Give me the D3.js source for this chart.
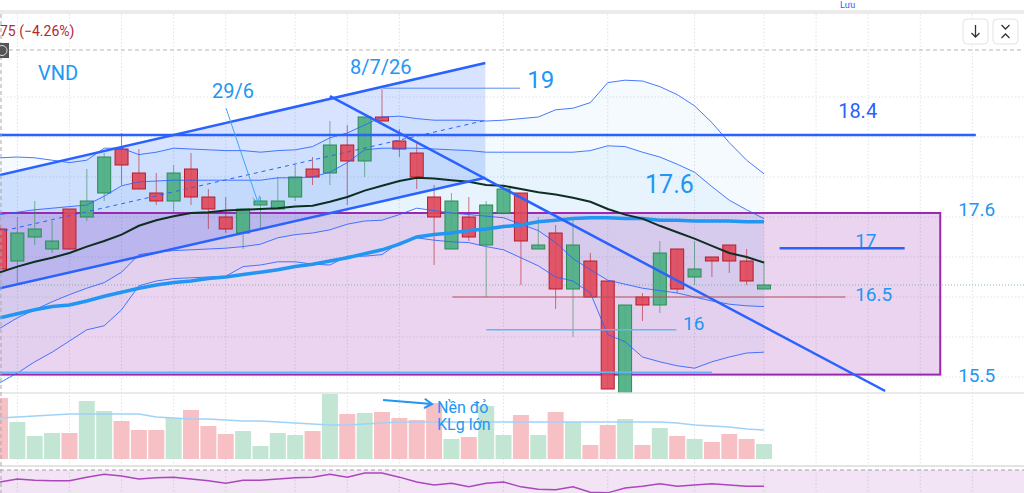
<!DOCTYPE html>
<html lang="vi">
<head>
<meta charset="UTF-8" />
<title>VND</title>
<style>
  body { margin: 0; background: #fff; overflow: hidden; }
  svg { display: block; font-family: Roboto, 'Noto Sans', sans-serif; }
</style>
</head>
<body>
<svg id="chart" width="1024" height="493"></svg>
<script src="https://d3js.org/d3.v7.min.js"></script>
<script>
// daily candles (price in thousand VND)
const opens  = [17.35,16.95,17.25,17.10,17.60,17.50,17.80,18.35,18.05,17.80,17.70,18.10,17.75,17.50,17.30,17.65,17.60,17.75,18.10,18.05,18.40,18.20,18.75,18.45,18.30,17.75,17.10,17.50,17.15,17.55,17.80,17.10,17.30,16.60,16.95,16.70,15.30,16.50,16.40,17.10,16.75,17.00,17.15,16.95,16.60];
const highs  = [17.40,17.50,17.70,17.45,17.60,18.10,18.30,18.55,18.35,18.05,18.15,18.30,17.85,17.75,17.60,17.75,18.00,18.15,18.25,18.70,18.65,18.75,19.10,18.60,18.45,17.90,17.80,17.75,17.70,17.85,17.80,17.50,17.40,17.50,17.05,16.70,16.40,16.55,17.20,17.10,17.20,17.00,17.15,17.10,16.95];
const lows   = [16.80,16.65,17.15,17.05,17.10,17.45,17.70,17.90,17.85,17.65,17.55,17.65,17.35,17.30,17.10,17.35,17.60,17.70,17.90,17.90,17.65,18.00,18.70,18.25,17.85,16.90,17.10,17.20,16.50,17.55,16.65,17.10,16.35,16.00,16.50,15.35,15.30,16.20,16.30,16.55,16.65,16.75,16.80,16.65,16.60];
const closes = [16.85,17.30,17.35,17.20,17.10,17.70,18.25,18.15,17.85,17.70,18.05,17.75,17.60,17.35,17.60,17.70,17.70,18.00,18.00,18.40,18.20,18.75,18.70,18.35,18.00,17.50,17.70,17.25,17.65,17.85,17.20,17.15,16.60,17.15,16.50,15.35,16.40,16.40,17.05,16.60,16.85,16.95,16.95,16.70,16.65];
const volumes = [61,37,23,26,26,58,48,38,29,29,41,49,33,25,28,13,26,24,28,65,45,46,47,41,39,56,20,22,53,24,44,24,47,37,14,34,40,14,31,23,20,17,25,20,15];
const volMa   = [41,42,43,44,45,45,45,45,45,42,41,40,40,39,38,38,37,36,35,34,34,35,36,37,37,37,37,37,37,37,37,37,37,37,37,37,37,37,37,36,34,33,32,30,29];

// indicators
const maDark = [16.81,16.88,16.94,16.99,17.05,17.13,17.20,17.28,17.39,17.46,17.51,17.55,17.56,17.58,17.59,17.60,17.61,17.63,17.64,17.69,17.75,17.83,17.89,17.95,17.99,17.98,17.96,17.94,17.90,17.89,17.85,17.81,17.78,17.74,17.69,17.60,17.53,17.48,17.39,17.31,17.23,17.14,17.05,17.00,16.93];
const maBlue = [16.24,16.29,16.34,16.38,16.40,16.45,16.51,16.56,16.61,16.65,16.68,16.70,16.73,16.75,16.78,16.81,16.84,16.88,16.91,16.95,16.99,17.04,17.09,17.16,17.25,17.28,17.30,17.33,17.35,17.38,17.40,17.44,17.46,17.48,17.49,17.49,17.48,17.48,17.46,17.46,17.45,17.45,17.45,17.44,17.44];
const bandUp2 = [18.24,18.25,18.24,18.21,18.18,18.21,18.36,18.36,18.28,18.31,18.36,18.35,18.34,18.33,18.33,18.31,18.33,18.34,18.38,18.49,18.55,18.65,18.75,18.76,18.73,18.71,18.71,18.71,18.70,18.71,18.73,18.75,18.84,18.86,18.93,19.18,19.21,19.20,19.13,19.03,18.89,18.68,18.43,18.21,18.04];
const bandUp1 = [17.53,17.56,17.59,17.61,17.63,17.65,17.76,17.89,17.94,17.95,17.96,17.96,17.96,17.96,17.96,17.96,17.99,17.99,18.00,18.06,18.18,18.34,18.36,18.36,18.36,18.35,18.34,18.33,18.31,18.31,18.31,18.31,18.31,18.31,18.33,18.39,18.38,18.31,18.25,18.16,18.06,17.88,17.71,17.59,17.48];
const bandLo1 = [16.11,16.24,16.34,16.44,16.53,16.61,16.68,16.81,17.03,17.06,17.08,17.09,17.10,17.11,17.13,17.16,17.24,17.28,17.30,17.34,17.41,17.45,17.46,17.53,17.61,17.58,17.55,17.53,17.51,17.49,17.41,17.33,17.18,16.98,16.84,16.71,16.66,16.61,16.58,16.55,16.50,16.45,16.41,16.39,16.38];
const bandLo2 = [15.43,15.55,15.69,15.81,15.95,16.09,16.14,16.34,16.64,16.70,16.73,16.74,16.75,16.76,16.88,16.90,16.94,16.94,16.91,16.90,17.01,17.01,17.03,17.18,17.24,17.21,17.19,17.18,17.13,17.09,16.99,16.89,16.75,16.70,16.55,16.03,15.94,15.75,15.69,15.64,15.61,15.69,15.75,15.80,15.81];
const rsi = [50,55,53,52,52,58,63,60,55,57,58,55,52,48,53,53,55,57,58,63,58,65,65,58,50,45,48,42,48,50,42,38,37,42,33,32,40,43,47,43,45,47,45,43,43];

const priceTicks = [15.5, 16, 16.5, 17, 17.5, 18, 18.5, 19];
const timeGrid = [1, 4, 7, 10, 13, 17, 20, 23, 29, 35, 40, 44, 47, 50, 53, 56];
const lastPrice = 16.65;

// drawings made on the chart (bar index, price)
const regChannel = { i0: -2, up0: 17.925, lo0: 16.51, i1: 27.95, up1: 19.425, lo1: 17.99 };
const zoneBox = { i0: -2, i1: 54.15, top: 17.55, bottom: 15.53 };
const downTrend = [[19.0, 19.01], [50.98, 15.325]];
const levels = [
  { i0: -2, i1: 56.2, p: 18.525, color: "#2962ff", w: 2.5 },
  { i0: 22.05, i1: 29.95, p: 19.11, color: "#5b8def", w: 1 },
  { i0: 44.9, i1: 52.1, p: 17.11, color: "#2962ff", w: 2.5 },
  { i0: 26.05, i1: 48.7, p: 16.5, color: "#b8505a", w: 1 },
  { i0: 28.0, i1: 38.95, p: 16.09, color: "#64b5f6", w: 1.5 },
  { i0: -2, i1: 41.0, p: 15.56, color: "#64b5f6", w: 1.5 }
];
const labels = [
  { t: "VND", i: 2.19, p: 19.21, s: 20, c: "#2196f3" },
  { t: "29/6", i: 12.21, p: 18.99, s: 20, c: "#2196f3" },
  { t: "8/7/26", i: 20.16, p: 19.29, s: 20, c: "#2196f3" },
  { t: "19", i: 30.36, p: 19.11, s: 24, c: "#2196f3" },
  { t: "18.4", i: 48.27, p: 18.74, s: 20, c: "#2962ff" },
  { t: "17.6", i: 37.15, p: 17.80, s: 25, c: "#2196f3" },
  { t: "17.6", i: 55.18, p: 17.51, s: 19, c: "#2196f3" },
  { t: "17", i: 49.25, p: 17.125, s: 19, c: "#2196f3" },
  { t: "16.5", i: 49.25, p: 16.45, s: 19, c: "#2196f3" },
  { t: "16", i: 39.34, p: 16.09, s: 19, c: "#2196f3" },
  { t: "15.5", i: 55.18, p: 15.44, s: 19, c: "#2196f3" }
];
const volNotes = [
  { t: "Nền đỏ", i: 25.17, v: 46 },
  { t: "KLg lớn", i: 25.17, v: 29 }
];

const svg = d3.select("#chart");
const W = 1024, H = 493;
const x = d3.scaleLinear().domain([0, 44]).range([0, 764]);
const y = d3.scaleLinear().domain([15.5, 19]).range([377, 97]);
const yVol = d3.scaleLinear().domain([0, 65]).range([459, 394]);
const yRsi = d3.scaleLinear().domain([30, 70]).range([494, 470]);
const idx = d3.range(opens.length);
const green = "#4caf82", greenDark = "#2f8a57", red = "#e04a5b", redDark = "#b71c2c";

svg.append("rect").attr("width", W).attr("height", H).attr("fill", "#fff");
svg.append("defs").append("clipPath").attr("id", "main")
  .append("rect").attr("x", 0).attr("y", 14).attr("width", W).attr("height", 379);

// grid
const grid = svg.append("g").attr("stroke", "#dfe2ea").attr("stroke-dasharray", "1.5,2");
grid.selectAll(".v").data(timeGrid).join("line")
  .attr("x1", d => x(d)).attr("x2", d => x(d)).attr("y1", 14).attr("y2", H);
grid.selectAll(".h").data(priceTicks).join("line")
  .attr("x1", 0).attr("x2", W).attr("y1", d => y(d)).attr("y2", d => y(d));

const main = svg.append("g").attr("clip-path", "url(#main)");

// bollinger fills
const area = (a, b) => d3.area().x(i => x(i)).y0(i => y(a[i])).y1(i => y(b[i]))(idx);
main.append("path").attr("d", area(bandLo2, bandUp2)).attr("fill", "rgba(33,150,243,0.05)");
main.append("path").attr("d", area(bandLo1, bandUp1)).attr("fill", "rgba(33,150,243,0.06)");

// regression channel fill
const rc = regChannel;
main.append("path")
  .attr("d", d3.line()([[x(rc.i0), y(rc.up0)], [x(rc.i1), y(rc.up1)], [x(rc.i1), y(rc.lo1)], [x(rc.i0), y(rc.lo0)]]) + "Z")
  .attr("fill", "rgba(41,98,255,0.18)");

// zone box
main.append("rect")
  .attr("x", x(zoneBox.i0)).attr("y", y(zoneBox.top))
  .attr("width", x(zoneBox.i1) - x(zoneBox.i0)).attr("height", y(zoneBox.bottom) - y(zoneBox.top))
  .attr("fill", "rgba(156,39,176,0.2)").attr("stroke", "#9c27b0").attr("stroke-width", 2);

// last price line
main.append("line").attr("x1", 0).attr("x2", W).attr("y1", y(lastPrice)).attr("y2", y(lastPrice))
  .attr("stroke", "#5f9e8c").attr("stroke-width", 1).attr("stroke-dasharray", "1,2").attr("opacity", 0.7);

// candles
const cg = main.append("g").selectAll("g").data(idx).join("g");
cg.append("line")
  .attr("x1", i => x(i)).attr("x2", i => x(i))
  .attr("y1", i => y(highs[i])).attr("y2", i => y(lows[i]))
  .attr("stroke", i => closes[i] >= opens[i] ? greenDark : redDark).attr("stroke-opacity", 0.6);
cg.append("rect")
  .attr("x", i => x(i) - 6.5).attr("width", 13)
  .attr("y", i => y(Math.max(opens[i], closes[i])))
  .attr("height", i => Math.max(1.5, Math.abs(y(opens[i]) - y(closes[i]))))
  .attr("fill", i => closes[i] >= opens[i] ? green : red)
  .attr("stroke", i => closes[i] >= opens[i] ? greenDark : redDark)
  .attr("stroke-width", 1).attr("fill-opacity", 0.92);

// indicator lines
const ln = arr => d3.line().x(i => x(i)).y(i => y(arr[i]))(idx);
[bandUp2, bandUp1, bandLo1, bandLo2].forEach(b =>
  main.append("path").attr("d", ln(b)).attr("fill", "none").attr("stroke", "#2962ff").attr("stroke-width", 1).attr("opacity", 0.85));
main.append("path").attr("d", ln(maBlue)).attr("fill", "none").attr("stroke", "#2196f3").attr("stroke-width", 3.5);
main.append("path").attr("d", ln(maDark)).attr("fill", "none").attr("stroke", "#0f2e22").attr("stroke-width", 2);

// regression lines
const seg = (i0, p0, i1, p1) => d3.line()([[x(i0), y(p0)], [x(i1), y(p1)]]);
main.append("path").attr("d", seg(rc.i0, rc.up0, rc.i1, rc.up1)).attr("stroke", "#2962ff").attr("stroke-width", 2.5);
main.append("path").attr("d", seg(rc.i0, rc.lo0, rc.i1, rc.lo1)).attr("stroke", "#2962ff").attr("stroke-width", 2.5);
main.append("path").attr("d", seg(rc.i0, (rc.up0 + rc.lo0) / 2, rc.i1, (rc.up1 + rc.lo1) / 2))
  .attr("stroke", "#2962ff").attr("stroke-width", 1).attr("stroke-dasharray", "4,4");

// trend line + levels
main.append("path").attr("d", seg(downTrend[0][0], downTrend[0][1], downTrend[1][0], downTrend[1][1]))
  .attr("stroke", "#2962ff").attr("stroke-width", 2.5);
main.selectAll(".lvl").data(levels).join("path")
  .attr("d", d => seg(d.i0, d.p, d.i1, d.p)).attr("stroke", d => d.color).attr("stroke-width", d => d.w);

// labels
svg.selectAll(".lbl").data(labels).join("text")
  .attr("x", d => x(d.i)).attr("y", d => y(d.p))
  .attr("fill", d => d.c).attr("font-size", d => d.s).text(d => d.t);

function arrowHead(g, x1, y1, x2, y2, len, color, w) {
  const a = Math.atan2(y2 - y1, x2 - x1);
  const pts = [[x2 - len * Math.cos(a - 0.55), y2 - len * Math.sin(a - 0.55)], [x2, y2],
               [x2 - len * Math.cos(a + 0.55), y2 - len * Math.sin(a + 0.55)]];
  g.append("path").attr("d", d3.line()(pts)).attr("fill", "none").attr("stroke", color).attr("stroke-width", w);
}
// arrow from 29/6 down to its candle
const a1 = [x(13.02), y(18.86), x(14.86), y(17.68)];
svg.append("path").attr("d", d3.line()([[a1[0], a1[1]], [a1[2], a1[3]]])).attr("stroke", "#42a5f5").attr("stroke-width", 1);
arrowHead(svg, ...a1, 7, "#42a5f5", 1);

// volume pane
svg.append("line").attr("x1", 0).attr("x2", W).attr("y1", 393).attr("y2", 393).attr("stroke", "#e3e3e3").attr("stroke-width", 1.5);
svg.append("g").selectAll("rect").data(idx).join("rect")
  .attr("x", i => x(i) - 8).attr("width", 16)
  .attr("y", i => yVol(volumes[i])).attr("height", i => yVol(0) - yVol(volumes[i]))
  .attr("fill", i => closes[i] >= opens[i] ? "#c3e6d4" : "#f7c0c5");
svg.append("path").attr("d", d3.line().x(i => x(i)).y(i => yVol(volMa[i]))(idx))
  .attr("fill", "none").attr("stroke", "#9fd2f7").attr("stroke-width", 1.3);
svg.selectAll(".vn").data(volNotes).join("text")
  .attr("x", d => x(d.i)).attr("y", d => yVol(d.v))
  .attr("fill", "#2196f3").attr("font-size", 16).text(d => d.t);
const a2 = [x(22.06), yVol(59), x(24.88), yVol(55)];
svg.append("path").attr("d", d3.line()([[a2[0], a2[1]], [a2[2], a2[3]]])).attr("stroke", "#2196f3").attr("stroke-width", 2);
arrowHead(svg, ...a2, 9, "#2196f3", 2);

// rsi pane
svg.append("line").attr("x1", 0).attr("x2", W).attr("y1", 466).attr("y2", 466).attr("stroke", "#e3e3e3").attr("stroke-width", 2);
svg.append("rect").attr("x", 0).attr("y", yRsi(70)).attr("width", W).attr("height", yRsi(30) - yRsi(70))
  .attr("fill", "rgba(156,39,176,0.13)");
svg.append("line").attr("x1", 0).attr("x2", W).attr("y1", yRsi(70)).attr("y2", yRsi(70))
  .attr("stroke", "#a0a0a0").attr("stroke-dasharray", "4,3");
svg.append("path").attr("d", d3.line().x(i => x(i)).y(i => yRsi(rsi[i]))(idx))
  .attr("fill", "none").attr("stroke", "#ab47bc").attr("stroke-width", 1.4);

// header / chrome
svg.append("rect").attr("x", 0).attr("y", 10).attr("width", W).attr("height", 4).attr("fill", "#ebebeb");
svg.append("text").attr("x", 840).attr("y", 8).attr("fill", "#2962ff").attr("font-size", 9).text("Lưu");
svg.append("text").attr("x", 0).attr("y", 36).attr("fill", "#b22833").attr("font-size", 14).text("75 (−4.26%)");
svg.append("line").attr("x1", 9).attr("x2", W).attr("y1", 50).attr("y2", 50)
  .attr("stroke", "#b5b5b5").attr("stroke-dasharray", "4,3");
svg.append("line").attr("x1", 1).attr("x2", 1).attr("y1", 14).attr("y2", H)
  .attr("stroke", "#a8a8a8").attr("stroke-dasharray", "4,3");
svg.append("rect").attr("x", 0).attr("y", 43).attr("width", 9).attr("height", 15).attr("fill", "#555");
svg.append("circle").attr("cx", 2).attr("cy", 50.5).attr("r", 5).attr("fill", "none").attr("stroke", "#ddd");

const btns = svg.append("g");
[963, 993].forEach(bx => btns.append("rect").attr("x", bx).attr("y", 19).attr("width", 25).attr("height", 25)
  .attr("rx", 4).attr("fill", "#fff").attr("stroke", "#e0e3eb"));
btns.append("path").attr("d", "M975.5,25V37M971.5,33L975.5,37L979.5,33").attr("fill", "none").attr("stroke", "#333").attr("stroke-width", 1.3);
btns.append("path").attr("d", "M1001.5,25L1005.5,29L1009.5,25M1001.5,38L1005.5,34L1009.5,38").attr("fill", "none").attr("stroke", "#333").attr("stroke-width", 1.3);
</script>
</body>
</html>
